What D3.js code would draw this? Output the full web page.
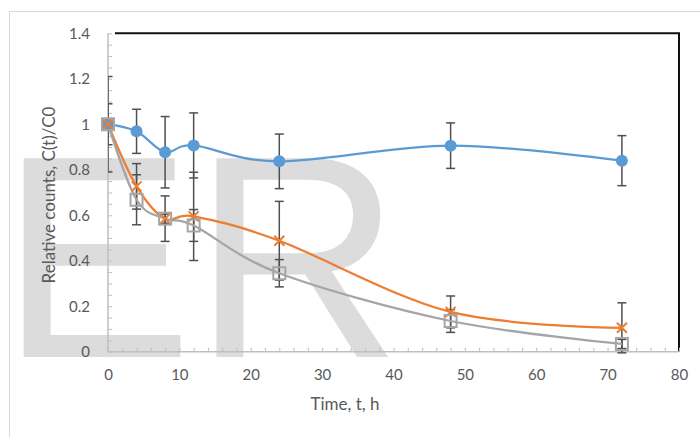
<!DOCTYPE html>
<html>
<head>
<meta charset="utf-8">
<script src="https://cdn.jsdelivr.net/npm/d3@7"></script>
<style>
  body { margin: 0; background: #fff; }
  svg { display: block; font-family: Lato, "Open Sans", sans-serif; }
</style>
</head>
<body>
<div id="chart"></div>
<script>
// time points (h)
var hours = [0, 4, 8, 12, 24, 48, 72];

// relative counts, three series
var blueVals = [1.0, 0.969, 0.877, 0.907, 0.837, 0.906, 0.84];
var orangeVals = [1.0, 0.727, 0.585, 0.595, 0.488, 0.175, 0.105];
var greyVals = [1.0, 0.668, 0.585, 0.555, 0.345, 0.135, 0.034];

// error bar half widths
var blueErr = [0.21, 0.097, 0.157, 0.143, 0.12, 0.1, 0.11];
var orangeErr = [0.09, 0.1, 0.1, 0.194, 0.173, 0.07, 0.11];
var greyErr = [0.0, 0.11, 0.02, 0.07, 0.06, 0.05, 0.02];

var xTicks = [0, 10, 20, 30, 40, 50, 60, 70, 80];
var yTicks = [0, 0.2, 0.4, 0.6, 0.8, 1, 1.2, 1.4];

var svgWidth = 700;
var svgHeight = 437;

var svg = d3.select("#chart")
  .append("svg")
  .attr("width", svgWidth)
  .attr("height", svgHeight);

// outer chart border
svg.append("rect")
  .attr("x", 9.5).attr("y", 11.5)
  .attr("width", 720).attr("height", 440)
  .attr("fill", "none")
  .attr("stroke", "#d9d9d9");

// watermark
svg.append("text")
  .attr("x", 0).attr("y", 357)
  .style("font-family", "'Liberation Sans', Arial, sans-serif")
  .style("font-size", "289px")
  .attr("fill", "#dcdcdc")
  .text("ER");

var x = d3.scaleLinear().domain([0, 80]).range([108, 679]);
var y = d3.scaleLinear().domain([0, 1.4]).range([351.7, 33.3]);

// clip plot area
svg.append("clipPath").attr("id", "plotClip")
  .append("rect")
  .attr("x", 108).attr("y", 0)
  .attr("width", 600).attr("height", 360);

// black frame top / right
svg.append("path")
  .attr("d", "M115," + y(1.4) + "H" + x(80) + "V" + y(0))
  .attr("fill", "none")
  .attr("stroke", "#111")
  .attr("stroke-width", 2);

// minor ticks (inside)
var yMinor = d3.axisRight(y).tickValues(d3.range(0, 1.4001, 0.05)).tickSize(4).tickFormat("");
var xMinor = d3.axisTop(x).tickValues(d3.range(0, 80.001, 2)).tickSize(4).tickFormat("");

svg.append("g").attr("class", "minor")
  .attr("transform", "translate(" + x(0) + ",0)")
  .call(yMinor);
svg.append("g").attr("class", "minor")
  .attr("transform", "translate(0," + y(0) + ")")
  .call(xMinor);
svg.selectAll(".minor path").remove();
svg.selectAll(".minor line").attr("stroke", "#bfbfbf").attr("stroke-width", 1);

// axis lines
svg.append("line")
  .attr("x1", x(0)).attr("x2", x(0))
  .attr("y1", y(1.4)).attr("y2", y(0))
  .attr("stroke", "#bfbfbf").attr("stroke-width", 1.5);
svg.append("line")
  .attr("x1", x(0)).attr("x2", x(80))
  .attr("y1", y(0)).attr("y2", y(0))
  .attr("stroke", "#bfbfbf").attr("stroke-width", 1.5);

// tick labels
var leftAxis = d3.axisLeft(y).tickValues(yTicks).tickSize(0).tickPadding(18)
  .tickFormat(function(d) { return d3.format("")(+d.toFixed(1)); });
var bottomAxis = d3.axisBottom(x).tickValues(xTicks).tickSize(0).tickPadding(18);

var gy = svg.append("g").attr("transform", "translate(" + x(0) + ",0)").call(leftAxis);
var gx = svg.append("g").attr("transform", "translate(0," + y(0) + ")").call(bottomAxis);
[gy, gx].forEach(function(g) {
  g.select(".domain").remove();
  g.selectAll("text")
    .attr("fill", "#595959")
    .style("font-size", "15px")
    .style("font-family", "Lato, 'Open Sans', sans-serif");
});

// axis titles
svg.append("text")
  .attr("transform", "translate(55,195) rotate(-90)")
  .attr("text-anchor", "middle")
  .attr("fill", "#595959")
  .style("font-size", "17px")
  .text("Relative counts, C(t)/C0");

svg.append("text")
  .attr("x", 345)
  .attr("y", 410)
  .attr("text-anchor", "middle")
  .attr("fill", "#595959")
  .style("font-size", "17px")
  .text("Time, t, h");

var plot = svg.append("g").attr("clip-path", "url(#plotClip)");

var series = [
  { name: "blue", vals: blueVals, err: blueErr, color: "#5b9bd5" },
  { name: "orange", vals: orangeVals, err: orangeErr, color: "#ed7d31" },
  { name: "grey", vals: greyVals, err: greyErr, color: "#a5a5a5" }
];

var line = d3.line()
  .x(function(d) { return x(d[0]); })
  .y(function(d) { return y(d[1]); })
  .curve(d3.curveCardinal.tension(0));

// error bars
series.forEach(function(s) {
  var pts = hours.map(function(h, i) { return { t: h, v: s.vals[i], e: s.err[i] }; })
    .filter(function(p) { return p.e > 0; });
  var eb = plot.append("g").attr("stroke", "#505050").attr("stroke-width", 1.5);
  eb.selectAll(".v").data(pts).enter().append("line")
    .attr("x1", function(d) { return x(d.t); })
    .attr("x2", function(d) { return x(d.t); })
    .attr("y1", function(d) { return y(d.v + d.e); })
    .attr("y2", function(d) { return y(d.v - d.e); });
  eb.selectAll(".top").data(pts).enter().append("line")
    .attr("x1", function(d) { return x(d.t) - 4.5; })
    .attr("x2", function(d) { return x(d.t) + 4.5; })
    .attr("y1", function(d) { return y(d.v + d.e); })
    .attr("y2", function(d) { return y(d.v + d.e); });
  eb.selectAll(".bot").data(pts).enter().append("line")
    .attr("x1", function(d) { return x(d.t) - 4.5; })
    .attr("x2", function(d) { return x(d.t) + 4.5; })
    .attr("y1", function(d) { return y(d.v - d.e); })
    .attr("y2", function(d) { return y(d.v - d.e); });
});

// lines
series.forEach(function(s) {
  plot.append("path")
    .datum(hours.map(function(h, i) { return [h, s.vals[i]]; }))
    .attr("d", line)
    .attr("fill", "none")
    .attr("stroke", s.color)
    .attr("stroke-width", 2.25);
});

// markers
var blueData = hours.map(function(h, i) { return [h, blueVals[i]]; });
var orangeData = hours.map(function(h, i) { return [h, orangeVals[i]]; });
var greyData = hours.map(function(h, i) { return [h, greyVals[i]]; });

svg.append("g").selectAll("circle").data(blueData).enter()
  .append("circle")
  .attr("cx", function(d) { return x(d[0]); })
  .attr("cy", function(d) { return y(d[1]); })
  .attr("r", 6)
  .attr("fill", "#5b9bd5");

svg.append("g").selectAll("path").data(orangeData).enter()
  .append("path")
  .attr("d", function(d) {
    var cx = x(d[0]), cy = y(d[1]), r = 5;
    return "M" + (cx - r) + "," + (cy - r) + "L" + (cx + r) + "," + (cy + r) +
      "M" + (cx - r) + "," + (cy + r) + "L" + (cx + r) + "," + (cy - r);
  })
  .attr("stroke", "#ed7d31")
  .attr("stroke-width", 2);

svg.append("g").selectAll("rect").data(greyData).enter()
  .append("rect")
  .attr("x", function(d) { return x(d[0]) - 6; })
  .attr("y", function(d) { return y(d[1]) - 6; })
  .attr("width", 12).attr("height", 12)
  .attr("fill", "none")
  .attr("stroke", "#a5a5a5")
  .attr("stroke-width", 2);
</script>
</body>
</html>
